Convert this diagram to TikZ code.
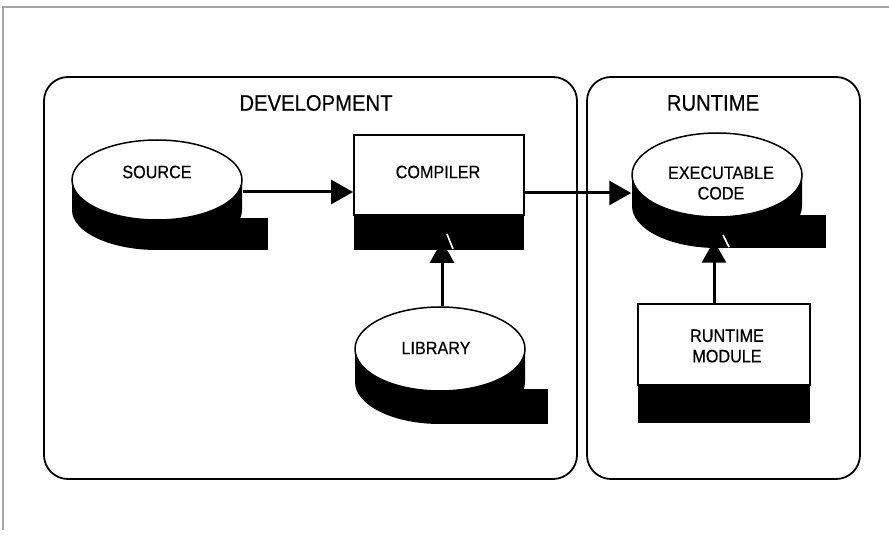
\documentclass[tikz,border=0pt]{standalone}
\usepackage{fontspec}
\setmainfont{Liberation Sans}[FakeStretch=0.9,FakeBold=0.4]
\usetikzlibrary{arrows.meta,shapes.geometric}
\begin{document}
\begin{tikzpicture}[x=1pt,y=-1pt,
  frame/.style={draw, line width=1.8pt, rounded corners=24pt, minimum height=402pt, inner sep=0pt},
  title/.style={font=\fontsize{22.5}{24}\selectfont, inner sep=0pt},
  lbl/.style={font=\fontsize{18}{20.5}\selectfont, align=center, inner sep=0pt},
  disk/.style={ellipse, draw, line width=1.5pt, fill=white, inner sep=0pt},
  prog/.style={rectangle, draw, line width=1.8pt, fill=white, inner sep=0pt},
  arr/.style={line width=3pt, -{Triangle[length=22pt,width=24pt]}},
  slash/.style={white, line width=1.6pt}
]
\useasboundingbox (0,0) rectangle (889,537);
% page frame
\draw[gray!70, line width=1.2pt] (3,530) -- (3,7) -- (889,7);

% group frames
\node[frame, minimum width=533pt] (dev) at (310.5,278) {};
\node[frame, minimum width=273pt] (run) at (723.5,278) {};
\node[title] (devtitle) at (316,103) {DEVELOPMENT};
\node[title] (runtitle) at (713,103) {RUNTIME};

% SOURCE disk
\fill (72,180) -- ++(0,30) arc[start angle=180,end angle=0,x radius=85,y radius=40]
  -- ++(0,-30) arc[start angle=0,end angle=180,x radius=85,y radius=40] -- cycle;
\fill (157,218) rectangle (268,250);
\node[disk, minimum width=170pt, minimum height=80pt] (source) at (157,180) {};
\node[lbl] (sourcelbl) at (157,172) {SOURCE};

% LIBRARY disk
\fill (355,349) -- ++(0,33) arc[start angle=180,end angle=0,x radius=85,y radius=42]
  -- ++(0,-33) arc[start angle=0,end angle=180,x radius=85,y radius=42] -- cycle;
\fill (440,389) rectangle (548,424);
\node[disk, minimum width=170pt, minimum height=84pt] (library) at (440,349) {};
\node[lbl] (librarylbl) at (436,348) {LIBRARY};

% EXECUTABLE CODE disk
\fill (632,175) -- ++(0,31) arc[start angle=180,end angle=0,x radius=85,y radius=42]
  -- ++(0,-31) arc[start angle=0,end angle=180,x radius=85,y radius=42] -- cycle;
\fill (717,215) rectangle (826,248);
\node[disk, minimum width=170pt, minimum height=84pt] (exec) at (717,175) {};
\node[lbl] (execlbl) at (721,183) {EXECUTABLE\\CODE};

% COMPILER box
\fill (354,215) rectangle (524,250);
\node[prog, minimum width=170pt, minimum height=80pt] (compiler) at (439,175) {};
\node[lbl] (compilerlbl) at (438,172) {COMPILER};

% RUNTIME MODULE box
\fill (638,385) rectangle (810,423);
\node[prog, minimum width=172pt, minimum height=81pt] (module) at (724,344.5) {};
\node[lbl] (modulelbl) at (727,346) {RUNTIME\\MODULE};

% connectors
\draw[arr] ([yshift=-12pt]source.east) -- ([yshift=-17pt]compiler.west);
\draw[arr] ([yshift=-18pt]compiler.east) -- ([yshift=-18pt]exec.west);
\coordinate (libtip) at ([xshift=3pt,yshift=-25pt]compiler.south);
\draw[arr] ([xshift=2pt]library.north) -- ([xshift=2pt]library.north |- libtip);
\coordinate (exectip) at ([xshift=-3pt,yshift=-23pt]exec.south);
\draw[arr] (exectip |- module.north) -- (exectip);

% white slashes in the black bands
\draw[slash] (447,234) -- (453,249);
\draw[slash] (723,235) -- (729,247);
\end{tikzpicture}
\end{document}
